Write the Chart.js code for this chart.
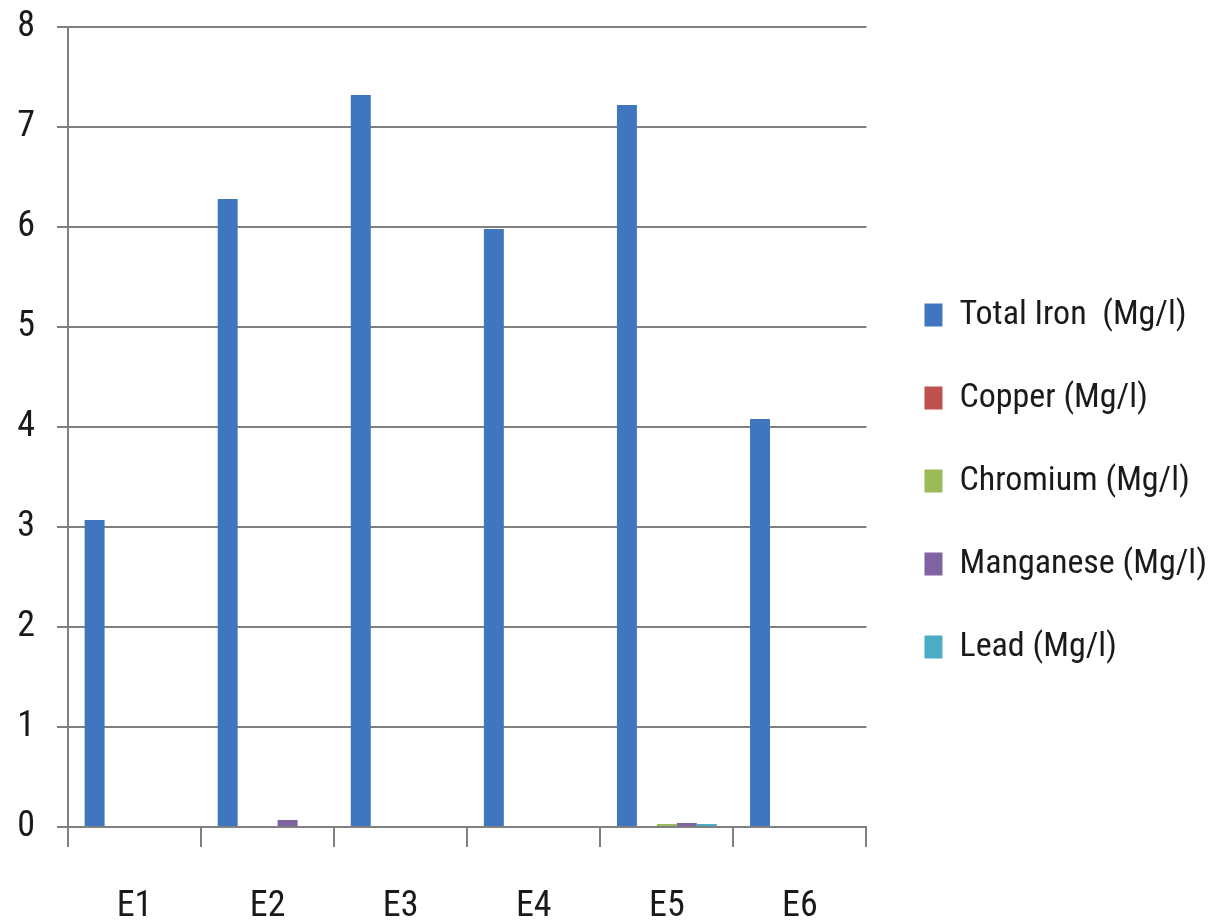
<!DOCTYPE html>
<html>
<head>
<meta charset="utf-8">
<script src="https://cdn.jsdelivr.net/npm/chart.js@4.4.1/dist/chart.umd.min.js"></script>
<style>
  html, body { margin: 0; padding: 0; background: #ffffff; }
  #wrap { width: 1221px; height: 924px; position: relative; }
</style>
</head>
<body>
<div id="wrap"><canvas id="chart"></canvas></div>
<script>
// Sampling sites
const categories = ['E1', 'E2', 'E3', 'E4', 'E5', 'E6'];

// Concentrations per site (Mg/l)
const totalIron = [3.07, 6.28, 7.32, 5.98, 7.22, 4.08];
const copper    = [0, 0, 0, 0, 0.01, 0];
const chromium  = [0, 0, 0, 0, 0.03, 0];
const manganese = [0, 0.07, 0, 0, 0.04, 0];
const lead      = [0, 0, 0, 0, 0.03, 0];

const seriesNames = ['Total Iron  (Mg/l)', 'Copper (Mg/l)', 'Chromium (Mg/l)', 'Manganese (Mg/l)', 'Lead (Mg/l)'];
const seriesColors = ['#4076c0', '#c0504d', '#9bbb59', '#8064a2', '#4bacc6'];
const yTicks = [0, 1, 2, 3, 4, 5, 6, 7, 8];

const FONT = '"Liberation Sans Narrow", "Roboto Condensed", "Liberation Sans", sans-serif';
const GRID = '#808080';

const seriesValues = [totalIron, copper, chromium, manganese, lead];

new Chart(document.getElementById('chart'), {
  type: 'bar',
  data: {
    labels: categories,
    datasets: seriesValues.map((vals, i) => ({
      label: seriesNames[i],
      data: vals,
      backgroundColor: seriesColors[i],
      borderWidth: 0,
      barPercentage: 1.0,
      categoryPercentage: 0.75
    }))
  },
  options: {
    responsive: true,
    maintainAspectRatio: false,
    animation: false,
    devicePixelRatio: 1,
    layout: { padding: { left: 0, right: 4, top: 27, bottom: 0 } },
    plugins: {
      tooltip: { enabled: false },
      legend: {
        position: 'right',
        align: 'center',
        maxWidth: 420,
        title: { display: true, text: '', font: { size: 1 }, padding: { top: 10, bottom: 0 } },
        labels: {
          font: { family: FONT, size: 34 },
          color: '#1a1a1a',
          boxWidth: 18,
          boxHeight: 23,
          padding: 49
        }
      }
    },
    scales: {
      x: {
        grid: {
          display: true,
          drawOnChartArea: false,
          drawTicks: true,
          tickLength: 20,
          color: GRID,
          lineWidth: 2,
          offset: true
        },
        border: { display: true, color: GRID, width: 2 },
        ticks: {
          font: { family: FONT, size: 36 },
          color: '#1a1a1a',
          padding: 38,
          maxRotation: 0
        },
        afterFit: (scale) => {
          scale.height = 97;
          scale.paddingLeft = 0;
          scale.paddingRight = 0;
        }
      },
      y: {
        min: 0,
        max: 8,
        afterBuildTicks: (axis) => { axis.ticks = yTicks.map(v => ({ value: v })); },
        grid: {
          color: GRID,
          lineWidth: 2,
          drawTicks: true,
          tickLength: 11
        },
        border: { display: true, color: GRID, width: 2 },
        ticks: {
          font: { family: FONT, size: 36 },
          color: '#1a1a1a',
          padding: 22
        },
        afterFit: (scale) => {
          scale.width = 68;
          scale.paddingTop = 0;
          scale.paddingBottom = 0;
        }
      },
      // empty right-hand axis: keeps a small gap between plot and legend
      gap: {
        type: 'linear',
        position: 'right',
        display: true,
        grid: { display: false, drawOnChartArea: false },
        border: { display: false },
        ticks: { display: false },
        afterFit: (scale) => {
          scale.width = 9;
          scale.paddingTop = 0;
          scale.paddingBottom = 0;
        }
      }
    }
  }
});
</script>
</body>
</html>
